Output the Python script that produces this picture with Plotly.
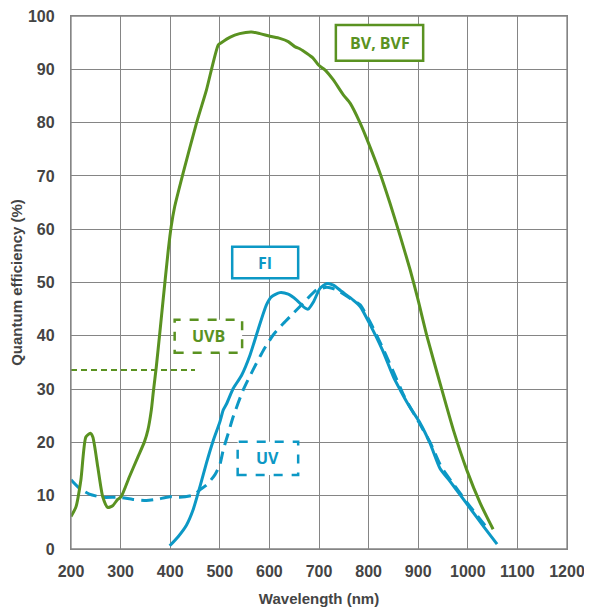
import plotly.graph_objects as go

# ---- data ----
bv_x = [200, 210, 220, 230, 239, 244, 254, 264, 274, 284, 294, 301, 318, 335, 348, 355, 362, 366, 372, 379,
        386, 396, 402, 409, 426, 453, 473, 497, 503, 520, 540, 564, 581, 601, 621, 638, 652, 662, 688, 699,
        712, 729, 749, 763, 783, 800, 823, 843, 864, 884, 899, 918, 944, 971, 998, 1025, 1051]
bv_y = [6.1, 7.9, 13, 21, 21.7, 21, 15.4, 9.8, 7.8, 8.1, 9.3, 9.8, 13.6, 17.3, 20.1, 22.3, 26.1, 29.5, 34.2, 40.5,
        47, 56, 60.5, 64.2, 70.5, 79.9, 86.1, 94.6, 95, 96, 96.7, 97, 96.7, 96.2, 95.8, 95.2, 94.2, 93.8, 92.1, 90.8,
        89.9, 88, 85.2, 83.6, 79.9, 76.1, 70.5, 64.9, 58.6, 52.3, 47, 39.8, 31.1, 22.3, 14.8, 8.6, 3.7]

fi_x = [399, 416, 433, 446, 460, 473, 487, 500, 507, 514, 527, 544, 561, 577, 594, 604, 621, 638, 655, 672,
        678, 689, 702, 716, 729, 746, 769, 783, 803, 828, 850, 864, 877, 891, 904, 924, 944, 965, 985, 1005,
        1032, 1059]
fi_y = [0.6, 2.3, 4.5, 7.3, 11.7, 16.1, 20.4, 23.8, 26.1, 27.3, 30.1, 32.6, 36.4, 41.1, 45.8, 47.3, 48.1, 47.8, 46.7, 45.2,
        45.0, 46.4, 48.9, 49.8, 49.5, 48.3, 46.7, 45.5, 42.1, 37.3, 32.3, 29.8, 27.6, 25.5, 23.6, 19.8, 15.1, 12.6, 10.1, 7.6,
        4.2, 0.9]

uv_x = [200, 217, 237, 264, 298, 325, 352, 372, 399, 419, 446, 460, 473, 490, 500, 507, 517, 527, 547, 567,
        588, 608, 628, 648, 668, 695, 716, 736, 763, 783, 803, 828, 852, 870, 880, 900, 924, 946, 966, 986,
        1006, 1040]
uv_y = [13, 11.4, 10.3, 9.7, 9.7, 9.3, 9.1, 9.3, 9.8, 9.7, 10.1, 11.1, 12, 13.9, 15.8, 18.6, 21.7, 24.8, 29.8, 33.6,
        37.3, 40.2, 42.3, 44.2, 46.1, 48.6, 49.1, 48.6, 47, 45.8, 42.6, 37.8, 32.8, 29, 27.2, 24, 20, 15.5, 12.8, 10.3,
        7.8, 3.8]

uvb_x = [200, 450]
uvb_y = [33.6, 33.6]

x_ticks = [200, 300, 400, 500, 600, 700, 800, 900, 1000, 1100, 1200]
y_ticks = [0, 10, 20, 30, 40, 50, 60, 70, 80, 90, 100]

GREEN = "#5A9221"
BLUE = "#0C98C5"
GRID = "#858585"

fig = go.Figure()
fig.add_trace(go.Scatter(x=uvb_x, y=uvb_y, mode="lines", name="UVB",
                         line=dict(color=GREEN, width=2, dash="6px,4px")))
fig.add_trace(go.Scatter(x=uv_x, y=uv_y, mode="lines", name="UV",
                         line=dict(color=BLUE, width=3, dash="12px,7px", shape="spline", smoothing=0.6)))
fig.add_trace(go.Scatter(x=fi_x, y=fi_y, mode="lines", name="FI",
                         line=dict(color=BLUE, width=3, shape="spline", smoothing=0.6)))
fig.add_trace(go.Scatter(x=bv_x, y=bv_y, mode="lines", name="BV, BVF",
                         line=dict(color=GREEN, width=3, shape="spline", smoothing=0.6)))

# label boxes
boxes = [
    ("BV, BVF", 734, 910, 91.6, 98.3, GREEN, "solid"),
    ("FI", 525, 658, 50.8, 56.7, BLUE, "solid"),
    ("UVB", 409, 545, 36.8, 43.0, GREEN, "dash"),
    ("UV", 536, 658, 13.9, 20.1, BLUE, "dash"),
]
for text, x0, x1, y0, y1, col, dash in boxes:
    fig.add_shape(type="rect", xref="x", yref="y", x0=x0, x1=x1, y0=y0, y1=y1,
                  line=dict(color=col, width=2.5, dash=dash), fillcolor="white", layer="above")
    fig.add_annotation(x=(x0 + x1) / 2, y=(y0 + y1) / 2, xref="x", yref="y", text=text,
                       showarrow=False, font=dict(family="Open Sans", size=16, color=col, weight="bold"))

# plot frame (top/right edges)
fig.add_shape(type="rect", xref="paper", yref="paper", x0=0, x1=1, y0=0, y1=1,
              line=dict(color=GRID, width=1.3), layer="above")

# the page body adds an 8px offset, so margins compensate
fig.update_layout(
    width=592, height=611,
    margin=dict(l=63, r=33, t=8, b=70),
    plot_bgcolor="white", paper_bgcolor="white",
    showlegend=False,
    font=dict(family="Liberation Sans, Arial", color="#444444"),
)
fig.update_xaxes(range=[200, 1200], tickvals=x_ticks, ticktext=[str(v) for v in x_ticks],
                 showgrid=True, gridcolor=GRID, gridwidth=1.3,
                 showline=True, linecolor=GRID, linewidth=1.3, mirror=True,
                 zeroline=False, ticks="", ticklabelstandoff=8, automargin=False,
                 ticklabeloverflow="allow",
                 tickfont=dict(size=16, color="#444444", weight="bold"),
                 title=dict(text="Wavelength (nm)", standoff=14,
                            font=dict(size=15, color="#444444", weight="bold")))
fig.update_yaxes(range=[0, 100], tickvals=y_ticks, ticktext=[str(v) for v in y_ticks],
                 showgrid=True, gridcolor=GRID, gridwidth=1.3,
                 showline=True, linecolor=GRID, linewidth=1.3, mirror=True,
                 zeroline=False, ticks="", ticklabelstandoff=12, automargin=False,
                 ticklabeloverflow="allow",
                 tickfont=dict(size=16, color="#444444", weight="bold"),
                 title=dict(text="Quantum efficiency (%)", standoff=10,
                            font=dict(size=15, color="#444444", weight="bold")))

fig.write_html("out.html")
